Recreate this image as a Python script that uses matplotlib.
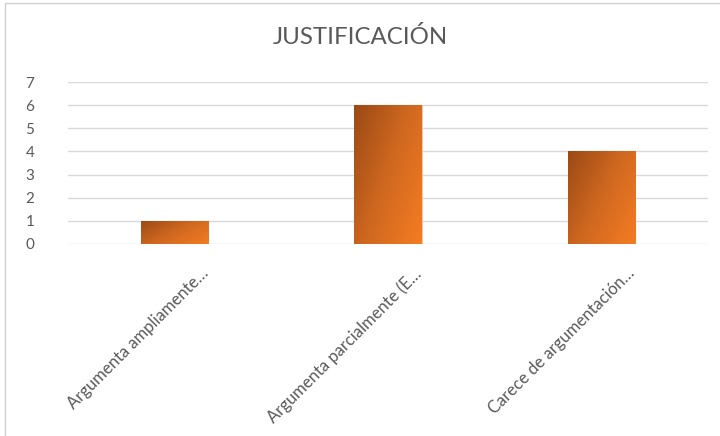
import numpy as np
import matplotlib
matplotlib.use("Agg")
import matplotlib.pyplot as plt
from matplotlib.colors import LinearSegmentedColormap
from matplotlib.patches import Rectangle
from matplotlib.transforms import ScaledTranslation

categories = ["Argumenta ampliamente…", "Argumenta parcialmente (E…", "Carece de argumentación…"]
values = [1, 6, 4]
title = "JUSTIFICACIÓN"

plt.rcParams['font.family'] = ['Lato', 'DejaVu Sans']
grey = '#595959'

fig = plt.figure(figsize=(7.2, 4.36), dpi=100)
ax = fig.add_axes([0.0941, 0.4404, 0.8896, 0.3715])

x = np.arange(len(categories))
bars = ax.bar(x, values, width=0.314, color='#d96a1e', edgecolor='#f8c9a0',
              linewidth=0.6, zorder=2)

# diagonal gradient: dark brown top-left -> bright orange bottom-right
cmap = LinearSegmentedColormap.from_list('g', ['#9b4a15', '#d06820', '#f47c22'])
gx, gy = np.meshgrid(np.linspace(0, 1, 60), np.linspace(0, 1, 60))
grad = 0.6 * gx + 0.4 * gy
for b in bars:
    x0, y0 = b.get_x(), b.get_y()
    w, h = b.get_width(), b.get_height()
    im = ax.imshow(grad, cmap=cmap, extent=[x0, x0 + w, y0, y0 + h],
                   aspect='auto', zorder=3, interpolation='bilinear')
    im.set_clip_path(b)

ax.set_xlim(-0.5, len(categories) - 0.5)
ax.set_ylim(0, 7)
ax.set_yticks(range(0, 8))
ax.yaxis.grid(True, color='#d9d9d9', linewidth=1)
ax.set_axisbelow(True)
for s in ax.spines.values():
    s.set_visible(False)
ax.tick_params(axis='y', length=0, pad=24, labelsize=11, labelcolor=grey)
ax.tick_params(axis='x', length=0, pad=0, labelsize=12, labelcolor=grey)

ax.set_xticks(x)
ax.set_xticklabels(categories, rotation=45, ha='right', va='center',
                   rotation_mode='anchor')
off = ScaledTranslation(0.31, -0.27, fig.dpi_scale_trans)
for lab in ax.get_xticklabels():
    lab.set_transform(lab.get_transform() + off)

fig.text(0.5, 0.915, title, ha='center', va='center', fontsize=17.3, color=grey)

# outer chart frame
fig.patches.append(Rectangle((5 / 720, -0.1), 1.2, 1 - 3 / 436 + 0.1,
                             transform=fig.transFigure, fill=False,
                             edgecolor='#d0d0d0', linewidth=1))

fig.savefig('out.png', dpi=100)
